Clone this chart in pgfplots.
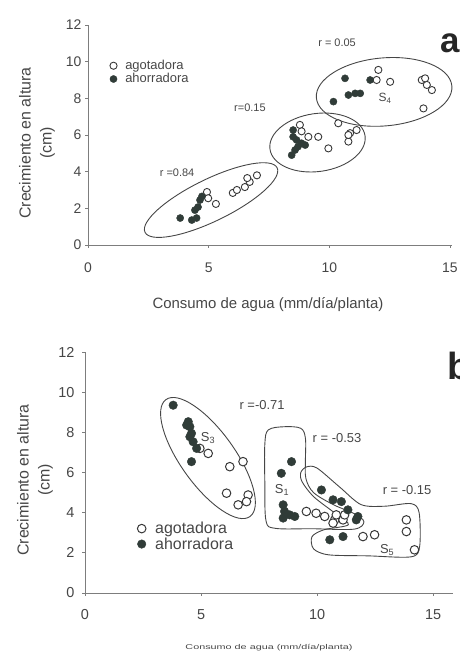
\documentclass[border=0pt]{standalone}
\usepackage{fontspec}
\setmainfont{Liberation Sans}
\usepackage{pgfplots}
\pgfplotsset{compat=1.18}
\definecolor{fillc}{RGB}{48,60,56}
\definecolor{edgec}{RGB}{55,55,55}
\definecolor{axc}{RGB}{125,125,125}
\definecolor{txt}{RGB}{70,70,70}
\definecolor{linec}{RGB}{70,70,70}

\pgfplotsset{
  myax/.style={
    scale only axis, clip=false,
    axis x line*=bottom, axis y line*=left,
    axis line style={axc, line width=0.9pt},
    xmin=0, ymin=0, ymax=12,
    xtick={0,5,10,15}, ytick={0,2,4,6,8,10,12},
    tick style={axc, line width=0.9pt},
    tick align=outside, major tick length=3pt,
    ticklabel style={text=txt},
    /pgf/number format/assume math mode=true,
    legend cell align=left,
    legend image code/.code={\draw[##1] plot coordinates {(0bp,0bp)};},
  },
  openA/.style={only marks, mark=*, mark size=3.6pt, mark options={fill=white, draw=edgec, line width=0.9pt}},
  fillA/.style={only marks, mark=*, mark size=3.6pt, mark options={fill=fillc, draw=fillc}},
  openB/.style={only marks, mark=*, mark size=4.3pt, mark options={fill=white, draw=edgec, line width=1pt}},
  fillB/.style={only marks, mark=*, mark size=4.3pt, mark options={fill=fillc, draw=fillc}},
}

\begin{document}
\begin{tikzpicture}[x=1bp,y=1bp]
\useasboundingbox (0,0) rectangle (460,651);

% ---------------- panel a ----------------
\begin{axis}[myax,
  at={(88bp,406bp)}, anchor=south west,
  width=364.4bp, height=220bp, xmax=15.1,
  xticklabel style={font=\fontsize{14}{16}\selectfont, yshift=-11bp},
  yticklabel style={font=\fontsize{14}{16}\selectfont},
  legend style={at={(axis cs:0.9,10.15)}, anchor=north west, draw=none, fill=none,
    inner sep=0pt, font=\fontsize{13}{13}\selectfont, text=txt,
    nodes={inner sep=1.2pt}, row sep=0bp,
    /tikz/every odd column/.append style={column sep=7bp}},
]
\draw[linec, line width=0.9pt, rotate around={26:(axis cs:5.10,2.45)}]
  (axis cs:5.10,2.45) ellipse [x radius=73.5bp, y radius=21bp];
\draw[linec, line width=0.9pt, rotate around={8:(axis cs:9.51,5.59)}]
  (axis cs:9.51,5.59) ellipse [x radius=48bp, y radius=29bp];
\draw[linec, line width=0.9pt, rotate around={5:(axis cs:12.27,8.35)}]
  (axis cs:12.27,8.35) ellipse [x radius=68bp, y radius=34bp];

\addplot[openA] coordinates {
 (4.93,2.89) (4.98,2.55) (5.30,2.24) (6.00,2.84) (6.17,3.00)
 (6.50,3.16) (6.70,3.44) (7.00,3.80) (6.60,3.65)
 (8.78,6.55) (8.85,6.20) (9.13,5.90) (9.54,5.90) (9.96,5.27)
 (10.37,6.64) (10.79,5.64) (10.86,6.10) (11.13,6.27) (10.79,6.00)
 (12.03,9.55) (11.96,9.00) (12.52,8.90) (13.83,9.00) (14.04,8.73)
 (14.25,8.45) (13.90,7.45) (13.97,9.09)
};
\addlegendentry{agotadora}
\addplot[fillA] coordinates {
 (3.82,1.47) (4.30,1.36) (4.50,1.47) (4.43,1.90) (4.56,2.07)
 (4.64,2.45) (4.72,2.65)
 (8.44,4.90) (8.58,5.18) (8.70,5.36) (8.85,5.55) (9.00,5.45)
 (8.50,5.90) (8.50,6.27) (8.64,5.73)
 (10.17,7.82) (10.65,9.09) (10.79,8.18) (11.07,8.27) (11.28,8.27) (11.69,9.00)
};
\addlegendentry{ahorradora}

\node[text=txt, font=\fontsize{11}{12}\selectfont] at (axis cs:10.32,11.02) {r = 0.05};
\node[text=txt, font=\fontsize{11}{12}\selectfont] at (axis cs:6.71,7.47) {r=0.15};
\node[text=txt, font=\fontsize{11}{12}\selectfont] at (axis cs:3.69,3.93) {r =0.84};
\node[text=txt, font=\fontsize{12}{12}\selectfont] at (axis cs:12.31,8.02) {S\textsubscript{4}};
\end{axis}

% ---------------- panel b ----------------
\begin{axis}[myax,
  at={(85bp,58bp)}, anchor=south west,
  width=368bp, height=241bp, xmax=15.86,
  xticklabel style={font=\fontsize{14.5}{16}\selectfont, yshift=-10bp},
  yticklabel style={font=\fontsize{14.5}{16}\selectfont, xshift=-4bp},
  legend style={at={(axis cs:2.25,3.6)}, anchor=north west, draw=none, fill=none,
    inner sep=0pt, font=\fontsize{16}{16}\selectfont, text=txt,
    nodes={inner sep=1.2pt}, row sep=0bp,
    /tikz/every odd column/.append style={column sep=8bp}},
]
\draw[linec, line width=0.9pt, rotate around={-54.3:(axis cs:5.30,6.72)}]
  (axis cs:5.30,6.72) ellipse [x radius=72bp, y radius=27bp];
\draw[linec, line width=0.9pt] plot[smooth cycle, tension=0.55] coordinates {
 (7.90,8.12) (8.60,8.28) (9.30,8.20) (9.50,7.70) (9.50,6.60) (9.52,5.70)
 (9.85,5.00) (10.70,4.40) (11.60,3.95) (12.02,3.55) (11.60,3.18)
 (9.80,3.20) (8.20,3.22) (7.80,3.60) (7.75,5.50) (7.75,7.40)
};
\draw[linec, line width=0.9pt] plot[smooth cycle, tension=0.5] coordinates {
 (9.30,6.00) (9.55,6.28) (10.00,6.22) (11.00,5.25) (11.90,4.40)
 (12.90,4.32) (14.05,4.45) (14.40,4.00) (14.42,2.30) (14.05,1.80)
 (12.20,1.85) (10.50,1.90) (9.85,2.20) (9.78,2.80) (10.30,3.15)
 (11.35,3.40) (10.80,3.95) (9.85,4.80) (9.35,5.55)
};

\addplot[openB] coordinates {
 (5.31,6.95) (4.95,7.20) (6.24,6.29) (6.81,6.54) (6.10,4.97)
 (6.60,4.39) (7.03,4.88) (6.96,4.55)
 (9.54,4.06) (9.96,3.97) (10.33,3.81) (10.76,3.64) (10.83,3.89)
 (11.12,3.64) (11.19,3.89) (10.69,3.48)
 (11.98,2.81) (12.48,2.90) (13.85,3.64) (13.85,3.06) (14.20,2.15)
};
\addlegendentry{agotadora}
\addplot[fillB] coordinates {
 (3.80,9.35) (4.38,8.36) (4.45,8.53) (4.52,8.28) (4.59,7.95)
 (4.52,7.78) (4.66,7.53) (4.81,7.20) (4.59,6.54)
 (8.90,6.54) (8.46,5.96) (8.54,4.39) (8.54,3.73) (8.82,3.89)
 (9.04,3.81) (8.60,4.06)
 (10.19,5.13) (10.69,4.64) (11.05,4.55) (11.33,4.14) (11.76,3.81)
 (11.69,3.64) (10.55,2.65) (11.12,2.81)
};
\addlegendentry{ahorradora}

\node[text=txt, font=\fontsize{13}{14}\selectfont] at (axis cs:7.63,9.36) {r =-0.71};
\node[text=txt, font=\fontsize{13}{14}\selectfont] at (axis cs:10.86,7.72) {r = -0.53};
\node[text=txt, font=\fontsize{13}{14}\selectfont] at (axis cs:13.88,5.13) {r = -0.15};
\node[text=txt, font=\fontsize{13}{14}\selectfont] at (axis cs:5.30,7.72) {S\textsubscript{3}};
\node[text=txt, font=\fontsize{13}{14}\selectfont] at (axis cs:8.49,5.13) {S\textsubscript{1}};
\node[text=txt, font=\fontsize{13}{14}\selectfont] at (axis cs:13.02,2.14) {S\textsubscript{5}};
\end{axis}

% ---------------- labels ----------------
\node[text=txt, font=\fontsize{15}{16}\selectfont] at (268,346) {Consumo de agua (mm/día/planta)};
\node[text=txt, rotate=90, align=center, font=\fontsize{16}{21}\selectfont] at (37,508) {Crecimiento en altura\\(cm)};
\node[text=txt, rotate=90, align=center, font=\fontsize{16}{21}\selectfont] at (35,171) {Crecimiento en altura\\(cm)};
\node[text=txt] at (269,3) {\scalebox{1.55}[1]{\fontsize{7}{8}\selectfont Consumo de agua (mm/día/planta)}};
\node[anchor=base west, inner sep=0pt, text=black!85, font=\fontsize{35}{36}\selectfont\bfseries] at (440,598) {a};
\node[anchor=base west, inner sep=0pt, text=black!85, font=\fontsize{38}{40}\selectfont\bfseries] at (447,271) {b};
\end{tikzpicture}
\end{document}
